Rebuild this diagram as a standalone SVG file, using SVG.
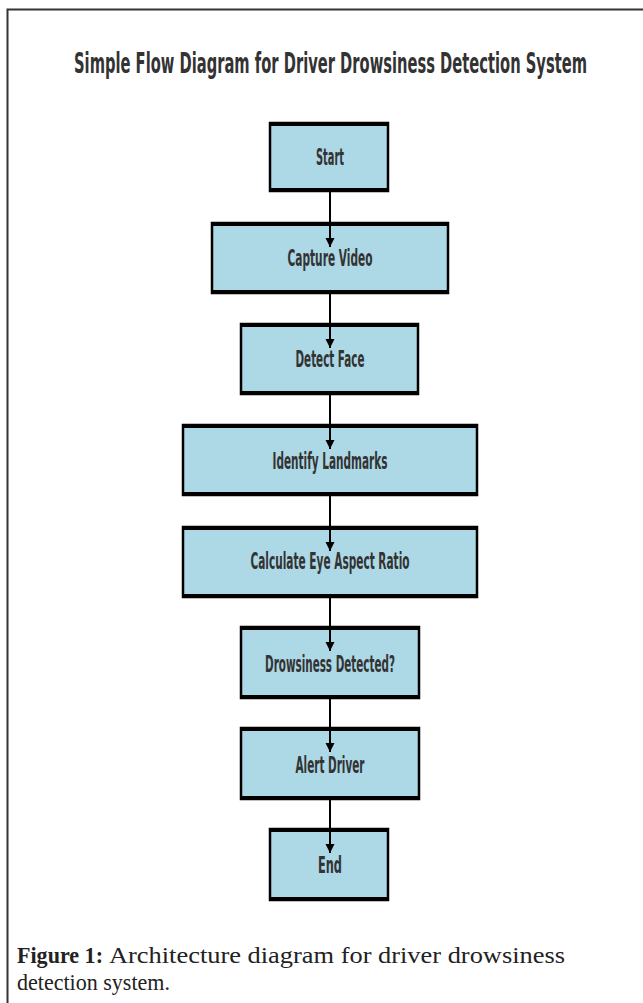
<svg xmlns="http://www.w3.org/2000/svg" width="643" height="1003" viewBox="0 0 643 1003">
<defs>
<marker id="ah" viewBox="0 0 9 16" refX="9" refY="8" markerWidth="9" markerHeight="16" markerUnits="userSpaceOnUse" orient="auto">
<path d="M0,3.5 L9,8 L0,12.5 Z" fill="#000"/>
</marker>
<style>
.box{fill:#add8e6;stroke:#000;stroke-width:2.5}
.edge{stroke:#000;stroke-width:4}
.lbl{font-family:"DejaVu Sans",sans-serif;font-weight:bold;font-size:23px;fill:#333;text-anchor:middle}
.conn{stroke:#000;stroke-width:2;fill:none}
.cap{font-family:"Liberation Serif",serif;font-size:24px;fill:#222}
</style>
</defs>
<rect width="643" height="1003" fill="#fff"/>
<path d="M7.5,1003 V9.5 H643" fill="none" stroke="#333" stroke-width="2"/>
<text transform="translate(330.5,73) scale(1,1.75)" x="0" y="0" textLength="513" lengthAdjust="spacingAndGlyphs" style="font-family:'DejaVu Sans',sans-serif;font-weight:bold;font-size:16px;fill:#333;text-anchor:middle">Simple Flow Diagram for Driver Drowsiness Detection System</text>

<g id="start"><rect class="box" x="270" y="123" width="118" height="68"/><line class="edge" x1="269" y1="124" x2="389" y2="124"/><line class="edge" x1="269" y1="190" x2="389" y2="190"/><text class="lbl" x="330" y="165" textLength="28" lengthAdjust="spacingAndGlyphs">Start</text></g>
<g id="capture"><rect class="box" x="212" y="223" width="236" height="70"/><line class="edge" x1="211" y1="224" x2="449" y2="224"/><line class="edge" x1="211" y1="292" x2="449" y2="292"/><text class="lbl" x="330" y="266" textLength="85" lengthAdjust="spacingAndGlyphs">Capture Video</text></g>
<g id="face"><rect class="box" x="241" y="324" width="177" height="70"/><line class="edge" x1="240" y1="325" x2="419" y2="325"/><line class="edge" x1="240" y1="393" x2="419" y2="393"/><text class="lbl" x="330" y="367" textLength="69" lengthAdjust="spacingAndGlyphs">Detect Face</text></g>
<g id="landmarks"><rect class="box" x="183" y="425" width="294" height="70"/><line class="edge" x1="182" y1="426" x2="478" y2="426"/><line class="edge" x1="182" y1="494" x2="478" y2="494"/><text class="lbl" x="330" y="469" textLength="115" lengthAdjust="spacingAndGlyphs">Identify Landmarks</text></g>
<g id="ear"><rect class="box" x="183" y="527" width="294" height="70"/><line class="edge" x1="182" y1="528" x2="478" y2="528"/><line class="edge" x1="182" y1="596" x2="478" y2="596"/><text class="lbl" x="330" y="569" textLength="159" lengthAdjust="spacingAndGlyphs">Calculate Eye Aspect Ratio</text></g>
<g id="drowsy"><rect class="box" x="241" y="627" width="178" height="71"/><line class="edge" x1="240" y1="628" x2="420" y2="628"/><line class="edge" x1="240" y1="697" x2="420" y2="697"/><text class="lbl" x="330" y="672" textLength="130" lengthAdjust="spacingAndGlyphs">Drowsiness Detected?</text></g>
<g id="alert"><rect class="box" x="241" y="728" width="178" height="71"/><line class="edge" x1="240" y1="729" x2="420" y2="729"/><line class="edge" x1="240" y1="798" x2="420" y2="798"/><text class="lbl" x="330" y="773" textLength="69" lengthAdjust="spacingAndGlyphs">Alert Driver</text></g>
<g id="end"><rect class="box" x="270" y="829" width="118" height="71"/><line class="edge" x1="269" y1="830" x2="389" y2="830"/><line class="edge" x1="269" y1="899" x2="389" y2="899"/><text class="lbl" x="330" y="873" textLength="24" lengthAdjust="spacingAndGlyphs">End</text></g>

<g id="connectors">
<line class="conn" x1="330" y1="192" x2="330" y2="247" marker-end="url(#ah)"/>
<line class="conn" x1="330" y1="294" x2="330" y2="348" marker-end="url(#ah)"/>
<line class="conn" x1="330" y1="395" x2="330" y2="449" marker-end="url(#ah)"/>
<line class="conn" x1="330" y1="496" x2="330" y2="551" marker-end="url(#ah)"/>
<line class="conn" x1="330" y1="598" x2="330" y2="651" marker-end="url(#ah)"/>
<line class="conn" x1="330" y1="699" x2="330" y2="752" marker-end="url(#ah)"/>
<line class="conn" x1="330" y1="800" x2="330" y2="853" marker-end="url(#ah)"/>
</g>

<text class="cap" x="17" y="963" font-weight="bold" textLength="86" lengthAdjust="spacingAndGlyphs">Figure 1:</text>
<text class="cap" x="109" y="963" textLength="456" lengthAdjust="spacingAndGlyphs">Architecture diagram for driver drowsiness</text>
<text class="cap" x="17" y="990" textLength="153" lengthAdjust="spacingAndGlyphs">detection system.</text>
</svg>
